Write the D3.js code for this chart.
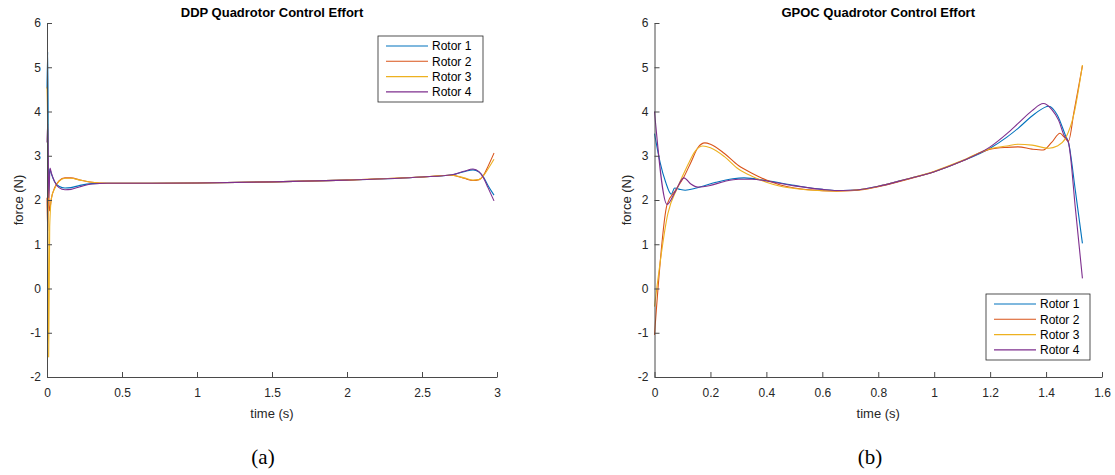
<!DOCTYPE html>
<html>
<head>
<meta charset="utf-8">
<script src="https://cdn.jsdelivr.net/npm/d3@7"></script>
<style>
  html, body { margin: 0; padding: 0; background: #fff; }
  svg text { font-family: "Liberation Sans", Arial, sans-serif; }
</style>
</head>
<body>
<svg id="chart" width="1115" height="475"></svg>
<script>
// ---------------- DATA ----------------
const seriesNames = ["Rotor 1", "Rotor 2", "Rotor 3", "Rotor 4"];
const seriesColors = ["#0072BD", "#D95319", "#EDB120", "#7E2F8E"];
const yTicks = [-2, -1, 0, 1, 2, 3, 4, 5, 6];
const ddpXTicks = [0, 0.5, 1, 1.5, 2, 2.5, 3];
const gpocXTicks = [0, 0.2, 0.4, 0.6, 0.8, 1, 1.2, 1.4, 1.6];
const titles = ["DDP Quadrotor Control Effort", "GPOC Quadrotor Control Effort"];
const captions = ["(a)", "(b)"];

// DDP: [time, force]
const ddpRotor1 = [[0,4.52],[0.005,5.35],[0.011,2.15],[0.018,2.7],[0.03,2.58],[0.05,2.42],[0.08,2.31],[0.12,2.27],[0.16,2.28],[0.22,2.33],[0.3,2.37],[0.4,2.38],[0.7,2.38],[1.0,2.385],[1.5,2.41],[2.0,2.45],[2.5,2.52],[2.7,2.57],[2.78,2.64],[2.84,2.68],[2.88,2.63],[2.91,2.52],[2.94,2.33],[2.98,2.11]];
const ddpRotor2 = [[0,2.05],[0.005,1.3],[0.01,2.4],[0.016,1.75],[0.03,2.05],[0.05,2.27],[0.08,2.43],[0.12,2.5],[0.16,2.5],[0.22,2.45],[0.3,2.4],[0.4,2.38],[0.7,2.38],[1.0,2.385],[1.5,2.41],[2.0,2.45],[2.5,2.52],[2.7,2.56],[2.78,2.49],[2.84,2.44],[2.88,2.46],[2.91,2.56],[2.94,2.76],[2.98,3.06]];
const ddpRotor3 = [[0,4.55],[0.005,3.3],[0.011,-1.55],[0.018,1.4],[0.03,2.05],[0.05,2.25],[0.08,2.42],[0.12,2.49],[0.16,2.49],[0.22,2.45],[0.3,2.4],[0.4,2.38],[0.7,2.38],[1.0,2.385],[1.5,2.41],[2.0,2.45],[2.5,2.52],[2.7,2.56],[2.78,2.5],[2.84,2.45],[2.88,2.46],[2.91,2.55],[2.94,2.7],[2.98,2.92]];
const ddpRotor4 = [[0,3.3],[0.005,3.72],[0.012,2.05],[0.02,2.72],[0.03,2.6],[0.05,2.42],[0.08,2.28],[0.12,2.23],[0.16,2.24],[0.22,2.3],[0.3,2.36],[0.4,2.38],[0.7,2.38],[1.0,2.385],[1.5,2.41],[2.0,2.45],[2.5,2.52],[2.7,2.57],[2.78,2.65],[2.84,2.7],[2.88,2.64],[2.91,2.5],[2.94,2.28],[2.98,1.98]];

// GPOC: [time, force]
const gpocRotor1 = [[0,3.5],[0.02,2.85],[0.04,2.4],[0.06,2.13],[0.072,2.27],[0.09,2.24],[0.11,2.22],[0.15,2.27],[0.22,2.4],[0.28,2.48],[0.32,2.5],[0.4,2.44],[0.5,2.33],[0.6,2.24],[0.65,2.215],[0.7,2.22],[0.75,2.25],[0.8,2.31],[0.9,2.47],[1.0,2.64],[1.1,2.88],[1.2,3.17],[1.26,3.42],[1.3,3.62],[1.36,3.95],[1.41,4.12],[1.44,3.92],[1.47,3.45],[1.48,3.3],[1.505,2.2],[1.53,1.02]];
const gpocRotor2 = [[0,-1.05],[0.045,1.9],[0.075,2.22],[0.105,2.52],[0.13,2.85],[0.155,3.18],[0.18,3.29],[0.2,3.26],[0.25,3.05],[0.3,2.78],[0.35,2.6],[0.4,2.45],[0.45,2.34],[0.5,2.27],[0.6,2.21],[0.65,2.2],[0.7,2.21],[0.75,2.24],[0.8,2.3],[0.9,2.46],[1.0,2.64],[1.1,2.88],[1.2,3.15],[1.26,3.19],[1.3,3.2],[1.35,3.15],[1.39,3.13],[1.42,3.3],[1.45,3.51],[1.465,3.42],[1.48,3.33],[1.5,4.0],[1.53,5.03]];
const gpocRotor3 = [[0,-0.41],[0.048,1.7],[0.083,2.29],[0.119,2.79],[0.145,3.1],[0.173,3.22],[0.2,3.18],[0.25,2.98],[0.3,2.7],[0.35,2.53],[0.4,2.4],[0.45,2.31],[0.5,2.26],[0.6,2.21],[0.65,2.205],[0.7,2.215],[0.75,2.245],[0.8,2.31],[0.9,2.47],[1.0,2.65],[1.1,2.89],[1.2,3.16],[1.26,3.22],[1.3,3.26],[1.35,3.24],[1.41,3.17],[1.44,3.22],[1.47,3.4],[1.5,3.95],[1.53,5.05]];
const gpocRotor4 = [[0,4.0],[0.045,1.9],[0.075,2.2],[0.105,2.5],[0.13,2.36],[0.155,2.29],[0.2,2.33],[0.25,2.42],[0.3,2.47],[0.35,2.47],[0.4,2.43],[0.5,2.32],[0.6,2.24],[0.65,2.215],[0.7,2.22],[0.75,2.25],[0.8,2.31],[0.9,2.47],[1.0,2.64],[1.1,2.88],[1.2,3.2],[1.26,3.5],[1.3,3.73],[1.35,4.02],[1.39,4.18],[1.42,4.05],[1.445,3.8],[1.465,3.45],[1.48,3.3],[1.505,1.8],[1.53,0.23]];

// ---------------- DRAW ----------------
const svg = d3.select("#chart");
svg.append("rect").attr("width", 1115).attr("height", 475).attr("fill", "#fff");

const fmt = v => d3.format("~g")(v).replace("\u2212", "-");

function panel(opts) {
  const { left, right, top, bottom, xDomain, xTicks, series, title, caption, legend, captionX } = opts;
  const x = d3.scaleLinear().domain(xDomain).range([left, right]);
  const y = d3.scaleLinear().domain([-2, 6]).range([bottom, top]);
  const g = svg.append("g");

  const line = d3.line().x(d => x(d[0])).y(d => y(d[1])).curve(d3.curveMonotoneX);
  series.forEach((s, i) => {
    g.append("path").attr("d", line(s)).attr("fill", "none")
      .attr("stroke", seriesColors[i]).attr("stroke-width", 1.1)
      .attr("stroke-linejoin", "round");
  });

  const xAxis = g.append("g").attr("transform", `translate(0,${bottom})`)
    .call(d3.axisBottom(x).tickValues(xTicks).tickFormat(fmt).tickSizeInner(-5).tickSizeOuter(0).tickPadding(11));
  const yAxis = g.append("g").attr("transform", `translate(${left},0)`)
    .call(d3.axisLeft(y).tickValues(yTicks).tickFormat(fmt).tickSizeInner(-5).tickSizeOuter(0).tickPadding(6));
  [xAxis, yAxis].forEach(a => {
    a.select(".domain").attr("stroke", "#4a4a4a").attr("stroke-width", 1);
    a.selectAll(".tick line").attr("stroke", "#4a4a4a");
    a.selectAll(".tick text").attr("fill", "#262626").style("font-size", "12px")
      .style("font-family", "'Liberation Sans', Arial, sans-serif");
  });

  const cx = (left + right) / 2;
  g.append("text").attr("x", cx).attr("y", 17).attr("text-anchor", "middle")
    .style("font-weight", "bold").style("font-size", "13px").attr("fill", "#000").text(title);
  g.append("text").attr("x", cx).attr("y", 418).attr("text-anchor", "middle")
    .style("font-size", "13px").attr("fill", "#262626").text("time (s)");
  g.append("text").attr("transform", `translate(${left - 24},${(top + bottom) / 2}) rotate(-90)`)
    .attr("text-anchor", "middle").style("font-size", "13px").attr("fill", "#262626").text("force (N)");
  g.append("text").attr("x", captionX).attr("y", 464).attr("text-anchor", "middle")
    .style("font-family", "'Liberation Serif', 'DejaVu Serif', serif").style("font-size", "21px")
    .attr("fill", "#000").text(caption);

  // legend
  const lg = g.append("g");
  lg.append("rect").attr("x", legend.x).attr("y", legend.y).attr("width", legend.w).attr("height", legend.h)
    .attr("fill", "#fff").attr("stroke", "#262626").attr("stroke-width", 0.8);
  seriesNames.forEach((n, i) => {
    const ry = legend.y + 10 + i * 15.3;
    lg.append("line").attr("x1", legend.x + 8).attr("x2", legend.x + 50).attr("y1", ry).attr("y2", ry)
      .attr("stroke", seriesColors[i]).attr("stroke-width", 1.1);
    lg.append("text").attr("x", legend.x + 54).attr("y", ry + 4.2).style("font-size", "12px")
      .attr("fill", "#000").text(n);
  });
}

panel({
  left: 47, right: 497, top: 23, bottom: 377, xDomain: [0, 3], xTicks: ddpXTicks,
  series: [ddpRotor1, ddpRotor2, ddpRotor3, ddpRotor4], title: titles[0], caption: captions[0], captionX: 263,
  legend: { x: 378, y: 36, w: 105, h: 66 }
});
panel({
  left: 654.5, right: 1102, top: 23, bottom: 377, xDomain: [0, 1.6], xTicks: gpocXTicks,
  series: [gpocRotor1, gpocRotor2, gpocRotor3, gpocRotor4], title: titles[1], caption: captions[1], captionX: 870,
  legend: { x: 986, y: 294, w: 104, h: 66 }
});
</script>
</body>
</html>
